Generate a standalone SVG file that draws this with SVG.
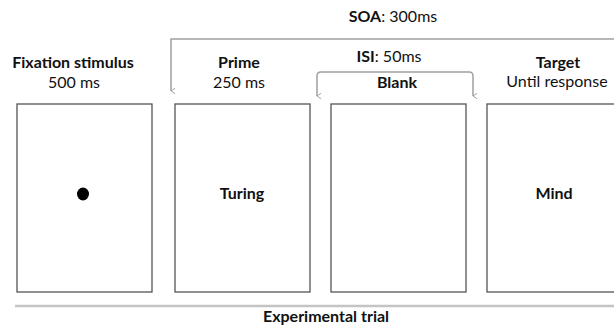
<svg xmlns="http://www.w3.org/2000/svg" width="614" height="326" viewBox="0 0 614 326">
<defs>
<style>
.b{font-family:Lato,"Open Sans","Liberation Sans",sans-serif;font-weight:bold;font-size:16px;fill:#111;text-anchor:middle}
.r{font-family:Lato,"Open Sans","Liberation Sans",sans-serif;font-size:16px;fill:#111;text-anchor:middle}
.n{font-weight:normal}
.box{fill:#fff;stroke:#555;stroke-width:1.3}
.con{fill:none;stroke:#a0a0a0;stroke-width:1.5}
</style>
<marker id="ar" viewBox="0 0 10 10" refX="5" refY="9" markerWidth="7" markerHeight="7" orient="auto-start-reverse" markerUnits="userSpaceOnUse">
<path d="M1,3 L5,9 L9,3" fill="none" stroke="#a0a0a0" stroke-width="1.4"/>
</marker>
</defs>
<rect width="614" height="326" fill="#fff"/>
<g id="connectors">
<path class="con" d="M614,39 H171 V91" marker-end="url(#ar)"/>
<path class="con" d="M317,96 V76 Q317,72 321,72 H469 Q473,72 473,76 V96" marker-start="url(#ar)" marker-end="url(#ar)"/>
<line x1="15" y1="306" x2="614" y2="306" stroke="#c4c4c4" stroke-width="2.5"/>
</g>
<g id="soa"><text class="b" x="393" y="22">SOA<tspan class="n">: 300ms</tspan></text></g>
<g id="isi"><text class="b" x="389" y="62">ISI<tspan class="n">: 50ms</tspan></text></g>
<g id="fixation">
<text class="b" x="73" y="68">Fixation stimulus</text>
<text class="r" x="74" y="88">500 ms</text>
<rect class="box" x="17" y="104" width="135" height="188"/>
<ellipse cx="83" cy="194" rx="6" ry="6.5" fill="#000"/>
</g>
<g id="prime">
<text class="b" x="239" y="68">Prime</text>
<text class="r" x="239" y="88">250 ms</text>
<rect class="box" x="175" y="104" width="135" height="188"/>
<text class="b" x="242" y="199">Turing</text>
</g>
<g id="blank">
<text class="b" x="397" y="88">Blank</text>
<rect class="box" x="331" y="104" width="135" height="188"/>
</g>
<g id="target">
<text class="b" x="558" y="68">Target</text>
<text class="r" x="557" y="87">Until response</text>
<rect class="box" x="487" y="104" width="135" height="188"/>
<text class="b" x="554" y="199">Mind</text>
</g>
<g id="trial"><text class="b" x="326" y="322">Experimental trial</text></g>
</svg>
